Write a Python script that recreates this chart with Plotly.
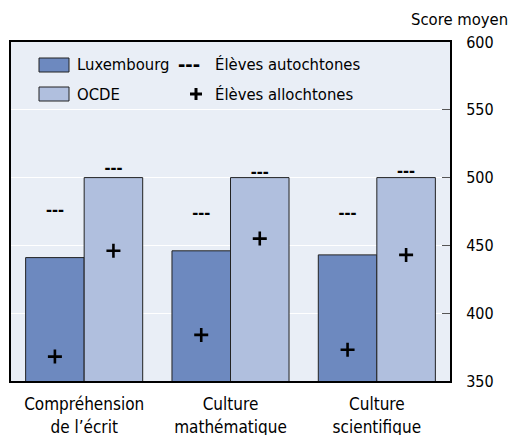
import plotly.graph_objects as go

categories = ["Compréhension<br>de l’écrit", "Culture<br>mathématique", "Culture<br>scientifique"]
lux_values = [441, 446, 443]
ocde_values = [500, 500, 500]
lux_autochtones = [475, 472.5, 473]
ocde_autochtones = [506, 503, 503.5]
lux_allochtones = [368, 384, 373]
ocde_allochtones = [446, 455, 443]
y_ticks = [350, 400, 450, 500, 550, 600]

LUX_COLOR = "#6d89bf"
OCDE_COLOR = "#b0bfde"
BG = "#e9eef6"
FONT = "DejaVu Sans Condensed, Liberation Sans Narrow, Arial Narrow, sans-serif"

idx = list(range(len(categories)))
x_lux = [i - 0.2 for i in idx]
x_ocde = [i + 0.2 for i in idx]

fig = go.Figure()
fig.add_trace(go.Bar(x=x_lux, y=lux_values, width=0.4, marker=dict(color=LUX_COLOR, line=dict(color="#222222", width=1)), name="Luxembourg", showlegend=False))
fig.add_trace(go.Bar(x=x_ocde, y=ocde_values, width=0.4, marker=dict(color=OCDE_COLOR, line=dict(color="#222222", width=1)), name="OCDE", showlegend=False))

dash_font = dict(family="Liberation Sans, Arial, sans-serif", size=18, color="black")
fig.add_trace(go.Scatter(x=x_lux + x_ocde, y=lux_autochtones + ocde_autochtones, mode="text",
                         text=["<b>---</b>"] * 6, textfont=dash_font, textposition="middle center", showlegend=False))
fig.add_trace(go.Scatter(x=x_lux + x_ocde, y=lux_allochtones + ocde_allochtones, mode="markers",
                         marker=dict(symbol="cross-thin", size=10, line=dict(color="black", width=2.6)), showlegend=False))

# plot area pixel geometry
L, R, T, B = 11, 450, 42, 381
W, H = 511, 435
def px(x):
    return (x - L) / (R - L)
def py(y):
    return (B - y) / (B - T)

shapes = []
annotations = []
for (y0, y1, col) in [(58, 72, LUX_COLOR), (87, 101, OCDE_COLOR)]:
    shapes.append(dict(type="rect", xref="paper", yref="paper", x0=px(39), x1=px(69), y0=py(y1), y1=py(y0),
                       fillcolor=col, line=dict(color="#222222", width=1)))
# legend plus sign
shapes.append(dict(type="line", xref="paper", yref="paper", x0=px(190), x1=px(202), y0=py(94), y1=py(94),
                   line=dict(color="black", width=3)))
shapes.append(dict(type="line", xref="paper", yref="paper", x0=px(196), x1=px(196), y0=py(88), y1=py(100),
                   line=dict(color="black", width=3)))
legend_text = [
    (75, 65, "Luxembourg"),
    (75, 94, "OCDE"),
    (213, 64, "Élèves autochtones"),
    (213, 94, "Élèves allochtones"),
]
for x, y, t in legend_text:
    annotations.append(dict(xref="paper", yref="paper", x=px(x), y=py(y), text=t, showarrow=False,
                            xanchor="left", yanchor="middle", font=dict(family=FONT, size=16.5, color="black")))
annotations.append(dict(xref="paper", yref="paper", x=px(188.5), y=py(63), text="<b>---</b>", showarrow=False,
                        xanchor="center", yanchor="middle", font=dict(family="Liberation Sans, Arial, sans-serif", size=22, color="black")))
annotations.append(dict(xref="paper", yref="paper", x=px(510), y=py(20), text="Score moyen", showarrow=False,
                        xanchor="right", yanchor="middle", font=dict(family=FONT, size=16.5, color="black")))

fig.update_layout(
    width=W, height=H,
    margin=dict(l=L, r=W - R, t=T, b=H - B),
    paper_bgcolor="white", plot_bgcolor=BG,
    font=dict(family=FONT, size=16.5, color="black"),
    barmode="overlay",
    shapes=shapes, annotations=annotations,
    xaxis=dict(range=[-0.5, 2.5], tickvals=idx, ticktext=categories, showgrid=False, zeroline=False,
               showline=True, linecolor="black", linewidth=2, mirror=True, ticks="", ticklabelstandoff=7,
               tickfont=dict(size=17), automargin=False, fixedrange=True),
    yaxis=dict(range=[350, 600], side="right", tickvals=y_ticks, showgrid=True, gridcolor="white", gridwidth=1,
               zeroline=False, showline=True, linecolor="black", linewidth=2, mirror=True,
               ticks="inside", ticklen=8, tickcolor="#555555", ticklabelstandoff=11, tickfont=dict(size=16),
               automargin=False, fixedrange=True),
)

fig.write_html("out.html", post_script="document.body.style.margin='0';", config={"displayModeBar": False})
